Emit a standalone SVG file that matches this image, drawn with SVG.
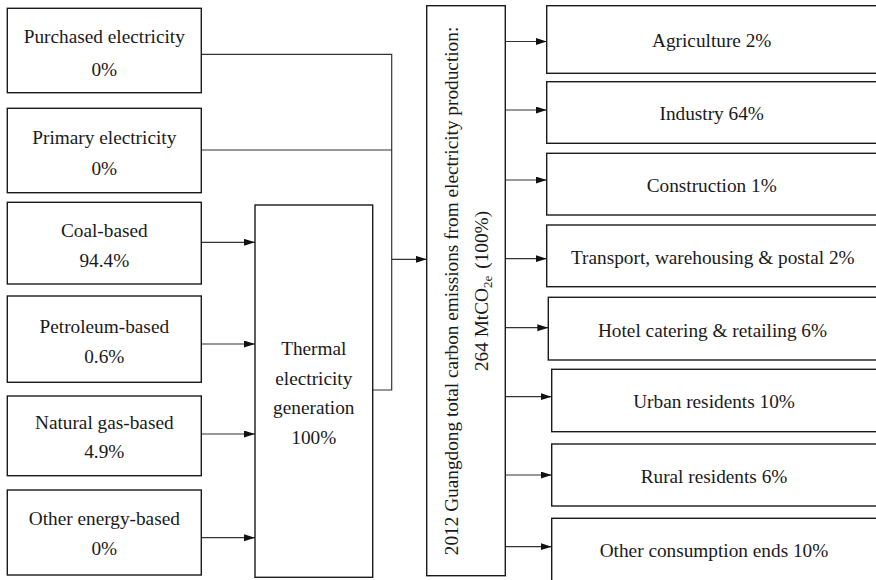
<svg xmlns="http://www.w3.org/2000/svg" width="876" height="580" viewBox="0 0 876 580">
<defs>
<marker id="arr" markerUnits="userSpaceOnUse" markerWidth="12" markerHeight="8" refX="11" refY="3.5" orient="auto">
<path d="M0,0 L11,3.5 L0,7 z" fill="#111"/>
</marker>
<style>
.box{fill:#fff;stroke:#1a1a1a;stroke-width:1.4}
.t{font-family:"Liberation Serif","Times New Roman",serif;font-size:19.3px;fill:#1a1a1a;text-anchor:middle}
.c{fill:none;stroke:#333;stroke-width:1.2}
.a{fill:none;stroke:#333;stroke-width:1.2;marker-end:url(#arr)}
</style>
</defs>
<rect width="876" height="580" fill="#fff"/>
<g id="connectors">
<path class="c" d="M201.3,54.3 H391.7 V390 H372.7"/>
<path class="c" d="M201.3,150 H391.7"/>
<path class="a" d="M391.7,259.3 H426.7"/>
<path class="a" d="M201.3,242.3 H255"/>
<path class="a" d="M201.3,344 H255"/>
<path class="a" d="M201.3,434 H255"/>
<path class="a" d="M201.3,537.7 H255"/>
<path class="a" d="M505.3,41.5 H546.7"/>
<path class="a" d="M505.3,110 H546.7"/>
<path class="a" d="M505.3,180 H546.7"/>
<path class="a" d="M505.3,258.7 H546.7"/>
<path class="a" d="M505.3,327.7 H548.3"/>
<path class="a" d="M505.3,396.7 H551.7"/>
<path class="a" d="M505.3,475 H551.7"/>
<path class="a" d="M505.3,546.7 H551.7"/>
</g>
<g id="purchased"><rect class="box" x="7.3" y="8.3" width="194" height="84.4"/><text class="t" x="104.3" y="43.3">Purchased electricity</text><text class="t" x="104.3" y="76">0%</text></g>
<g id="primary"><rect class="box" x="7.3" y="108.3" width="194" height="84.4"/><text class="t" x="104.3" y="144.3">Primary electricity</text><text class="t" x="104.3" y="175">0%</text></g>
<g id="coal"><rect class="box" x="7.3" y="202.3" width="194" height="81.7"/><text class="t" x="104.3" y="236.7">Coal-based</text><text class="t" x="104.3" y="266.7">94.4%</text></g>
<g id="petroleum"><rect class="box" x="7.3" y="296" width="194" height="86.3"/><text class="t" x="104.3" y="332.7">Petroleum-based</text><text class="t" x="104.3" y="362.7">0.6%</text></g>
<g id="naturalgas"><rect class="box" x="7.3" y="396" width="194" height="79.7"/><text class="t" x="104.3" y="429.3">Natural gas-based</text><text class="t" x="104.3" y="458.3">4.9%</text></g>
<g id="otherenergy"><rect class="box" x="7.3" y="490" width="194" height="85"/><text class="t" x="104.3" y="525">Other energy-based</text><text class="t" x="104.3" y="555">0%</text></g>
<g id="thermal"><rect class="box" x="255" y="205" width="117.7" height="372.3"/><text class="t" x="313.8" y="355">Thermal</text><text class="t" x="313.8" y="384.5">electricity</text><text class="t" x="313.8" y="414">generation</text><text class="t" x="313.8" y="443.5">100%</text></g>
<g id="total"><rect class="box" x="426.7" y="5.7" width="78.6" height="570"/>
<text class="t" transform="translate(458.3,291) rotate(-90)" x="0" y="0">2012 Guangdong total carbon emissions from electricity production:</text>
<text class="t" transform="translate(488,291) rotate(-90)" x="0" y="0">264 MtCO<tspan font-size="13px" dy="4">2e</tspan><tspan dx="7" dy="-4">(100%)</tspan></text>
</g>
<g id="agriculture"><rect class="box" x="546.7" y="5.7" width="332" height="67.6"/><text class="t" x="711.7" y="46.5">Agriculture 2%</text></g>
<g id="industry"><rect class="box" x="546.7" y="81.7" width="332" height="61.6"/><text class="t" x="711.7" y="119.5">Industry 64%</text></g>
<g id="construction"><rect class="box" x="546.7" y="153.3" width="332" height="61.7"/><text class="t" x="711.7" y="191.5">Construction 1%</text></g>
<g id="transport"><rect class="box" x="546.7" y="225" width="332" height="61.7"/><text class="t" x="712.8" y="264">Transport, warehousing &amp; postal 2%</text></g>
<g id="hotel"><rect class="box" x="548.3" y="297.3" width="332" height="62.7"/><text class="t" x="712.5" y="337.3">Hotel catering &amp; retailing 6%</text></g>
<g id="urban"><rect class="box" x="551.7" y="369.3" width="332" height="62.4"/><text class="t" x="714" y="408.3">Urban residents 10%</text></g>
<g id="rural"><rect class="box" x="551.7" y="444" width="332" height="62"/><text class="t" x="714" y="483.3">Rural residents 6%</text></g>
<g id="otherends"><rect class="box" x="551.7" y="518.3" width="332" height="70"/><text class="t" x="714" y="557.3">Other consumption ends 10%</text></g>
</svg>
